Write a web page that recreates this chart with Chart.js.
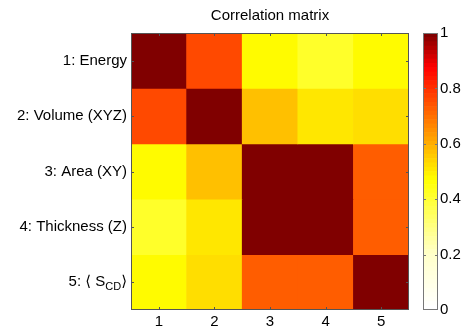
<!DOCTYPE html>
<html lang="en">
<head>
<meta charset="UTF-8">
<title>Correlation matrix</title>
<script src="https://cdn.jsdelivr.net/npm/chart.js"></script>
<style>
  html, body { margin: 0; padding: 0; background: #fff; }
  #wrap { position: relative; width: 467px; height: 328px; }
  #wrap canvas { position: absolute; left: 0; top: 0; }
</style>
</head>
<body>
<div id="wrap">
  <canvas id="matrix" width="467" height="328"></canvas>
  <canvas id="colorbar" width="467" height="328"></canvas>
</div>
<script>
// variables (rows) and column tick labels
const rowNames = ['1: Energy', '2: Volume (XYZ)', '3: Area (XY)', '4: Thickness (Z)', '5: \u27e8 S_{CD}\u27e9'];
const colLabels = ['1', '2', '3', '4', '5'];
const titleText = 'Correlation matrix';

// correlation coefficients, one array per row
const corrRow1 = [1.00, 0.76, 0.47, 0.42, 0.47];
const corrRow2 = [0.76, 1.00, 0.57, 0.51, 0.53];
const corrRow3 = [0.47, 0.57, 1.00, 0.99, 0.73];
const corrRow4 = [0.42, 0.51, 0.99, 1.00, 0.73];
const corrRow5 = [0.47, 0.53, 0.73, 0.73, 1.00];
const corrRows = [corrRow1, corrRow2, corrRow3, corrRow4, corrRow5];

// colorbar ticks
const cbarTicks = [0, 0.2, 0.4, 0.6, 0.8, 1];
const cbarLevels = 64;

// white -> yellow -> red -> dark red
const cmapStops = [
  [0.00, [255, 255, 255]],
  [0.20, [255, 255, 200]],
  [0.47, [255, 255, 0]],
  [0.88, [255, 0, 0]],
  [1.00, [128, 0, 0]]
];

function rampColor(v) {
  v = Math.max(0, Math.min(1, v));
  for (let i = 1; i < cmapStops.length; i++) {
    const [p1, c1] = cmapStops[i];
    const [p0, c0] = cmapStops[i - 1];
    if (v <= p1) {
      const t = (v - p0) / (p1 - p0);
      const c = c0.map((x, k) => Math.round(x + (c1[k] - x) * t));
      return `rgb(${c[0]},${c[1]},${c[2]})`;
    }
  }
  return 'rgb(128,0,0)';
}

// 64-level lookup, the way an indexed colormap picks its colour
function levelOf(v) {
  return Math.max(0, Math.min(cbarLevels - 1, Math.floor(v * cbarLevels)));
}
function colormap(v) {
  return rampColor(levelOf(v) / (cbarLevels - 1));
}

const FONT = "'Liberation Sans', Arial, 'DejaVu Sans', sans-serif";
Chart.defaults.font.family = FONT;
Chart.defaults.font.size = 15;
Chart.defaults.color = '#000';

// inward tick marks plus a box round the plot area
const frameTicks = {
  id: 'frameTicks',
  afterDatasetsDraw(chart, args, opts) {
    const { ctx, chartArea: a } = chart;
    const len = opts.length;
    ctx.save();
    ctx.strokeStyle = opts.color;
    ctx.lineWidth = 1;
    ctx.beginPath();
    Object.values(chart.scales).forEach(scale => {
      if (!scale.options.display) return;
      scale.ticks.forEach((t, i) => {
        if (opts.skipEnds && (i === 0 || i === scale.ticks.length - 1)) return;
        const p = Math.round(scale.getPixelForTick(i)) + 0.5;
        if (scale.isHorizontal()) {
          ctx.moveTo(p, a.bottom); ctx.lineTo(p, a.bottom - len);
          ctx.moveTo(p, a.top); ctx.lineTo(p, a.top + len);
        } else {
          ctx.moveTo(a.left, p); ctx.lineTo(a.left + len, p);
          ctx.moveTo(a.right, p); ctx.lineTo(a.right - len, p);
        }
      });
    });
    ctx.stroke();
    ctx.strokeRect(a.left + 0.5, a.top + 0.5, a.width - 1, a.height - 1);
    ctx.restore();
  }
};

// title centred over the plot area, not the whole canvas
const axesTitle = {
  id: 'axesTitle',
  afterDraw(chart, args, opts) {
    const { ctx, chartArea: a } = chart;
    ctx.save();
    ctx.font = `15px ${FONT}`;
    ctx.fillStyle = '#000';
    ctx.textAlign = 'center';
    ctx.textBaseline = 'middle';
    ctx.fillText(opts.text, (a.left + a.right) / 2, opts.y);
    ctx.restore();
  }
};

// y labels written with a subscript, e.g. S_{CD}
const richLabels = {
  id: 'richLabels',
  afterDraw(chart) {
    const { ctx, chartArea: a } = chart;
    const scale = chart.scales.y;
    ctx.save();
    ctx.fillStyle = '#000';
    ctx.textBaseline = 'middle';
    ctx.textAlign = 'left';
    scale.ticks.forEach((t, i) => {
      const name = rowNames[t.value - 1];
      if (!name || name.indexOf('_{') < 0) return;
      const parts = name.split(/_\{([^}]*)\}/);
      const fonts = parts.map((p, k) => (k % 2 ? `11px ${FONT}` : `15px ${FONT}`));
      let w = 0;
      parts.forEach((p, k) => { ctx.font = fonts[k]; w += ctx.measureText(p).width; });
      let x = a.left - 4 - w;
      const y = scale.getPixelForTick(i);
      parts.forEach((p, k) => {
        ctx.font = fonts[k];
        ctx.fillText(p, x, k % 2 ? y + 5 : y);
        x += ctx.measureText(p).width;
      });
    });
    ctx.restore();
  }
};

new Chart(document.getElementById('matrix'), {
  type: 'bar',
  data: {
    labels: colLabels,
    datasets: corrRows.map((row, r) => ({
      label: rowNames[r],
      data: row.map(() => [r + 0.5, r + 1.5]),
      backgroundColor: row.map(colormap),
      borderWidth: 0,
      grouped: false,
      barPercentage: 1,
      categoryPercentage: 1
    }))
  },
  options: {
    responsive: false,
    animation: false,
    events: [],
    layout: { padding: { left: 0, right: 58, top: 33, bottom: 0 } },
    plugins: {
      legend: { display: false },
      tooltip: { enabled: false },
      title: { display: false },
      axesTitle: { text: titleText, y: 16 },
      frameTicks: { color: '#555', length: 3, skipEnds: false }
    },
    scales: {
      x: {
        grid: { display: false, drawTicks: false },
        border: { display: false },
        ticks: { padding: 3 },
        afterFit(scale) { scale.height = 18; }
      },
      y: {
        type: 'linear',
        reverse: true,
        min: 0.5,
        max: 5.5,
        grid: { display: false, drawTicks: false },
        border: { display: false },
        afterBuildTicks(scale) {
          scale.ticks = rowNames.map((n, i) => ({ value: i + 1 }));
        },
        ticks: {
          padding: 4,
          callback: v => {
            const name = rowNames[v - 1];
            return name.indexOf('_{') >= 0 ? '' : name;
          }
        },
        afterFit(scale) { scale.width = 131; }
      }
    }
  },
  plugins: [frameTicks, axesTitle, richLabels]
});

// colorbar: stacked thin segments, one per colormap level
const cbarSegments = [];
for (let k = 0; k < cbarLevels; k++) {
  cbarSegments.push({
    data: [[k / cbarLevels, (k + 1) / cbarLevels]],
    backgroundColor: rampColor(k / (cbarLevels - 1)),
    borderWidth: 0,
    grouped: false,
    barPercentage: 1,
    categoryPercentage: 1
  });
}

new Chart(document.getElementById('colorbar'), {
  type: 'bar',
  data: { labels: [''], datasets: cbarSegments },
  options: {
    responsive: false,
    animation: false,
    events: [],
    layout: { padding: { left: 423, right: 0, top: 33, bottom: 18 } },
    plugins: {
      legend: { display: false },
      tooltip: { enabled: false },
      frameTicks: { color: '#777', length: 3, skipEnds: true }
    },
    scales: {
      x: { display: false },
      y: {
        position: 'right',
        min: 0,
        max: 1,
        grid: { display: false, drawTicks: false },
        border: { display: false },
        afterBuildTicks(scale) {
          scale.ticks = cbarTicks.map(v => ({ value: v }));
        },
        ticks: {
          padding: 2,
          callback: v => String(+v.toFixed(1))
        },
        afterFit(scale) { scale.width = 29; }
      }
    }
  },
  plugins: [frameTicks]
});
</script>
</body>
</html>
